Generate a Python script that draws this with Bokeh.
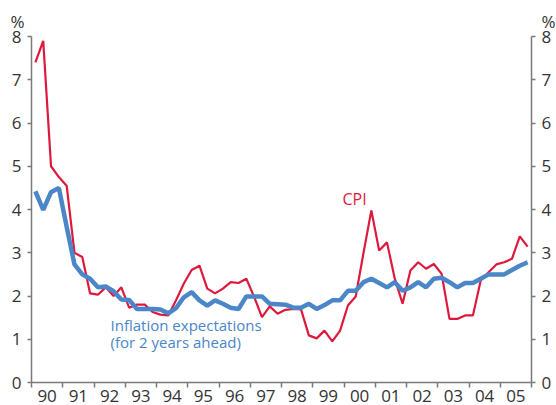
from bokeh.plotting import figure
from bokeh.models import Range1d, LinearAxis, FixedTicker, Label
from bokeh.embed import file_html
from bokeh.resources import INLINE

# ---- data (quarterly, 1990Q1 .. 2005Q4) ----
years = list(range(1990, 2006))
year_labels = ["90", "91", "92", "93", "94", "95", "96", "97",
               "98", "99", "00", "01", "02", "03", "04", "05"]
quarters = [1, 2, 3, 4]

cpi = [7.40, 7.90, 5.00, 4.75,
       4.55, 3.00, 2.90, 2.06,
       2.03, 2.20, 2.00, 2.20,
       1.73, 1.80, 1.80, 1.63,
       1.57, 1.55, 1.90, 2.29,
       2.60, 2.70, 2.17, 2.06,
       2.17, 2.32, 2.30, 2.40,
       1.98, 1.51, 1.76, 1.59,
       1.68, 1.70, 1.69, 1.09,
       1.02, 1.20, 0.95, 1.20,
       1.78, 1.99, 3.00, 3.98,
       3.05, 3.24, 2.40, 1.82,
       2.59, 2.78, 2.63, 2.74,
       2.51, 1.47, 1.47, 1.55,
       1.55, 2.36, 2.55, 2.73,
       2.78, 2.86, 3.38, 3.14]

expectations = [4.42, 3.99, 4.40, 4.50,
                3.60, 2.73, 2.50, 2.40,
                2.20, 2.22, 2.11, 1.92,
                1.91, 1.70, 1.70, 1.70,
                1.69, 1.60, 1.72, 1.97,
                2.09, 1.90, 1.78, 1.90,
                1.82, 1.73, 1.70, 1.99,
                1.99, 1.99, 1.82, 1.81,
                1.80, 1.73, 1.73, 1.82,
                1.70, 1.79, 1.90, 1.90,
                2.12, 2.12, 2.32, 2.40,
                2.30, 2.20, 2.32, 2.12,
                2.20, 2.32, 2.20, 2.40,
                2.42, 2.32, 2.20, 2.30,
                2.30, 2.40, 2.50, 2.50,
                2.50, 2.60, 2.70, 2.78]

y_ticks = [0, 1, 2, 3, 4, 5, 6, 7, 8]
unit_label = "%"
cpi_label = "CPI"
exp_label_lines = ["Inflation expectations", "(for 2 years ahead)"]

# quarter positions: centre of each quarter within its year
qx = [y + (q - 0.5) / 4 for y in years for q in quarters]

RED = "#DD1A3C"
BLUE = "#4A86C8"
AXIS = "#7A7A7A"
TXT = "#333333"
FONT = "Open Sans"

# ---- layout: the frame covers the whole canvas, axes sit at fixed data locations
W, H = 556, 405
PAD_L, PAD_R, PAD_T, PAD_B = 31, 25, 36, 23
x0, x1 = years[0], years[-1] + 1
y0, y1 = y_ticks[0], y_ticks[-1]
px_x = (W - PAD_L - PAD_R) / (x1 - x0)
px_y = (H - PAD_T - PAD_B) / (y1 - y0)

p = figure(width=W, height=H, output_backend="svg", toolbar_location=None,
           x_range=Range1d(x0 - PAD_L / px_x, x1 + PAD_R / px_x),
           y_range=Range1d(y0 - PAD_B / px_y, y1 + PAD_T / px_y),
           min_border=0, x_axis_location=None, y_axis_location=None)
p.outline_line_color = None
p.grid.visible = False
p.background_fill_color = "white"
p.border_fill_color = "white"

def style_y(ax, standoff):
    ax.ticker = FixedTicker(ticks=y_ticks)
    ax.bounds = (y0, y1)
    ax.axis_line_color = AXIS
    ax.axis_line_width = 1.5
    ax.major_tick_line_color = AXIS
    ax.major_tick_line_width = 1.5
    ax.major_tick_out = 4
    ax.major_tick_in = 0
    ax.minor_tick_line_color = None
    ax.major_label_standoff = standoff
    ax.major_label_text_font = FONT
    ax.major_label_text_font_size = "17px"
    ax.major_label_text_color = TXT

left = LinearAxis(fixed_location=x0)
style_y(left, 6)
p.add_layout(left, "left")
right = LinearAxis(fixed_location=x1)
style_y(right, 6)
p.add_layout(right, "right")

bottom = LinearAxis(fixed_location=y0)
bottom.bounds = (x0, x1)
bottom.ticker = FixedTicker(ticks=[y + 0.5 for y in years],
                            minor_ticks=years + [x1])
bottom.major_label_overrides = {y + 0.5: lab for y, lab in zip(years, year_labels)}
bottom.axis_line_color = AXIS
bottom.axis_line_width = 1.5
bottom.major_tick_line_color = None
bottom.major_tick_out = 0
bottom.major_tick_in = 0
bottom.minor_tick_line_color = AXIS
bottom.minor_tick_line_width = 1.5
bottom.minor_tick_out = 5
bottom.minor_tick_in = 0
bottom.major_label_standoff = 2
bottom.major_label_text_font = FONT
bottom.major_label_text_font_size = "17px"
bottom.major_label_text_color = TXT
p.add_layout(bottom, "below")

p.line(qx, cpi, line_color=RED, line_width=2.2)
p.line(qx, expectations, line_color=BLUE, line_width=4.5)

p.add_layout(Label(x=x0, y=y1, x_offset=-21, y_offset=15, text=unit_label,
                   text_font=FONT, text_font_size="17px", text_color=TXT,
                   text_align="left", text_baseline="alphabetic"))
p.add_layout(Label(x=x1, y=y1, x_offset=10, y_offset=15, text=unit_label,
                   text_font=FONT, text_font_size="17px", text_color=TXT,
                   text_align="left", text_baseline="alphabetic"))

p.add_layout(Label(x=1999.95, y=4.24, text=cpi_label, text_font=FONT,
                   text_font_size="16px", text_color=RED,
                   text_align="left", text_baseline="alphabetic"))
p.add_layout(Label(x=1992.53, y=1.34, text=exp_label_lines[0], text_font=FONT,
                   text_font_size="15px", text_color=BLUE,
                   text_align="left", text_baseline="alphabetic"))
p.add_layout(Label(x=1992.53, y=0.94, text=exp_label_lines[1], text_font=FONT,
                   text_font_size="15px", text_color=BLUE,
                   text_align="left", text_baseline="alphabetic"))

open("out.html", "w").write(file_html(p, INLINE))
